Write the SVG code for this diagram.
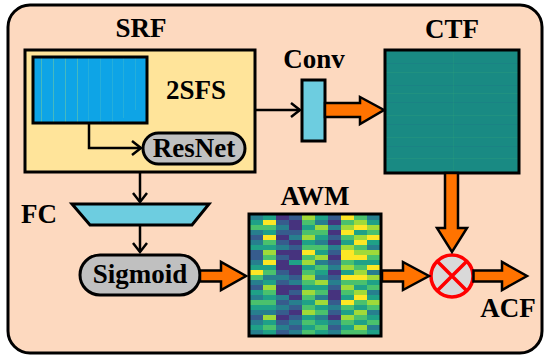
<svg xmlns="http://www.w3.org/2000/svg" width="550" height="361" viewBox="0 0 550 361">
<style>
text{font-family:"Liberation Serif","Times New Roman",serif;font-weight:bold;font-size:27px;fill:#000;text-anchor:middle}
.blk{stroke:#000;stroke-width:3}
.ln{fill:none;stroke:#000;stroke-width:2.5}
.oa{fill:#ff7300;stroke:#000;stroke-width:2.5;stroke-linejoin:miter}
.hm{fill:none;stroke-width:13}
</style>
<defs>
<marker id="chev" markerUnits="userSpaceOnUse" markerWidth="14" markerHeight="16" refX="11" refY="8" orient="auto">
<path d="M2,1 L11,8 L2,15" fill="none" stroke="#000" stroke-width="2.5"/>
</marker>
</defs>
<rect x="8" y="5" width="534" height="348" rx="22" fill="#fdd9bf" class="blk"/>

<g id="srf">
<text x="141" y="37">SRF</text>
<rect x="25" y="50" width="230" height="122" fill="#ffe49a" class="blk"/>
</g>
<g id="spectrogram">
<rect x="33" y="57" width="114" height="66" fill="#0ea4e6"/>
<g stroke="#7ccf9a" stroke-width="1" opacity="0.5">
<path d="M41.5,58V122M53.5,58V122M65.5,58V122M77.5,58V122"/>
</g>
<g stroke="#5cc8c0" stroke-width="1" opacity="0.3">
<path d="M88.5,58V122M100.5,58V122M112.5,58V122M123.5,58V118M135.5,58V110"/>
</g>
<rect x="33" y="57" width="114" height="66" fill="none" class="blk"/>
</g>
<g id="label-2sfs"><text x="196" y="99">2SFS</text></g>
<g id="resnet">
<rect x="143" y="133" width="102" height="31" rx="15.5" fill="#c0c0c0" class="blk"/>
<text x="194" y="157" font-size="28">ResNet</text>
</g>
<g id="conv">
<text x="314" y="68">Conv</text>
<rect x="302" y="80" width="23" height="61" fill="#6dcde0" class="blk"/>
</g>
<g id="ctf">
<text x="452" y="38">CTF</text>
<rect x="385" y="50" width="134" height="123" fill="#198a83"/>
<g stroke-width="1" fill="none">
<path d="M386,63.5H518M386,85.5H518M386,102.5H518M386,124.5H518M386,146.5H518" stroke="#1b7c86" opacity="0.5"/>
<path d="M386,72.5H518M386,93.5H518M386,115.5H518M386,137.5H518M386,158.5H518" stroke="#2a9a7c" opacity="0.45"/>
<path d="M453.5,52V170" stroke="#30a878" opacity="0.2"/>
</g>
<rect x="385" y="50" width="134" height="123" fill="none" class="blk"/>
</g>
<g id="fc">
<text x="39" y="223">FC</text>
<polygon points="72,204 209,204 192,225 90,225" fill="#6dcde0" class="blk"/>
</g>
<g id="sigmoid">
<rect x="80" y="255" width="120" height="40" rx="20" fill="#c0c0c0" class="blk"/>
<text x="140" y="283">Sigmoid</text>
</g>
<g id="awm">
<text x="315" y="205">AWM</text>
<rect x="249" y="214" width="132" height="122" fill="#277f8e"/>
<path class="hm" stroke="#46337e" d="M282.5 215v5M282.5 235v5M282.5 250v5M282.5 260v10M282.5 285v10M282.5 315v5M295.5 220v10M295.5 240v5M295.5 250v10M295.5 265v10M295.5 285v5M295.5 295v5M295.5 310v5M334.5 220v5M334.5 230v5M334.5 240v5M334.5 255v5M334.5 270v5M334.5 290v10M334.5 315v5"/>
<path class="hm" stroke="#365c8d" d="M256.5 235v5M256.5 250v10M256.5 285v5M256.5 315v5M282.5 220v5M282.5 230v5M282.5 240v5M282.5 255v5M282.5 270v5M282.5 280v5M282.5 300v5M282.5 310v5M282.5 320v5M282.5 330v5M295.5 215v5M295.5 230v5M295.5 245v5M295.5 275v5M295.5 290v5M295.5 305v5M295.5 315v5M295.5 325v5M334.5 215v5M334.5 235v5M334.5 250v5M334.5 260v5M334.5 275v5M334.5 285v5M334.5 300v5M334.5 310v5M334.5 325v5"/>
<path class="hm" stroke="#1fa187" d="M256.5 220v5M256.5 245v5M256.5 265v5M256.5 290v5M256.5 305v5M256.5 325v5M269.5 215v5M269.5 230v5M269.5 245v5M269.5 265v5M269.5 280v5M269.5 295v5M269.5 305v5M269.5 320v5M269.5 330v5M295.5 260v5M308.5 225v5M308.5 240v5M308.5 265v5M308.5 285v5M308.5 300v5M308.5 315v5M308.5 325v5M321.5 215v5M321.5 235v5M321.5 250v5M321.5 270v5M321.5 285v5M321.5 305v5M321.5 320v5M321.5 330v5M347.5 240v5M347.5 270v5M347.5 295v5M347.5 310v5M347.5 325v5M360.5 230v5M360.5 260v5M360.5 285v5M360.5 305v5M360.5 320v5M373.5 220v5M373.5 240v5M373.5 260v5M373.5 280v5M373.5 295v5M373.5 315v5M373.5 330v5"/>
<path class="hm" stroke="#4ac16d" d="M256.5 225v5M256.5 275v5M256.5 300v5M269.5 225v5M269.5 240v5M269.5 255v5M269.5 270v5M269.5 290v5M269.5 300v5M269.5 325v5M308.5 220v5M308.5 230v5M308.5 245v5M308.5 255v5M308.5 270v5M308.5 280v5M308.5 295v5M308.5 305v5M308.5 320v5M308.5 330v5M321.5 230v5M321.5 245v5M321.5 265v5M321.5 290v5M321.5 310v5M321.5 325v5M347.5 220v5M347.5 235v5M347.5 260v5M347.5 280v5M347.5 290v5M347.5 305v5M347.5 320v5M347.5 330v5M360.5 215v5M360.5 245v5M360.5 265v5M360.5 280v5M360.5 300v5M360.5 315v5M360.5 330v5M373.5 230v5M373.5 255v5M373.5 285v5M373.5 305v5M373.5 320v5"/>
<path class="hm" stroke="#a0da39" d="M269.5 250v5M269.5 285v5M269.5 315v5M308.5 215v5M308.5 235v5M308.5 260v5M308.5 275v5M308.5 290v5M308.5 310v5M321.5 225v5M321.5 255v5M321.5 280v5M321.5 300v5M347.5 225v5M347.5 245v5M347.5 265v5M347.5 285v5M347.5 315v5M360.5 220v5M360.5 235v5M360.5 250v5M360.5 270v5M360.5 290v5M360.5 310v5M360.5 325v5M373.5 225v5M373.5 250v5M373.5 275v5M373.5 300v5"/>
<path class="hm" stroke="#fde725" d="M256.5 270v5M269.5 220v5M269.5 235v5M269.5 260v5M308.5 250v5M347.5 215v5M347.5 230v5M347.5 250v10M347.5 275v5M347.5 300v5M360.5 225v5M360.5 240v5M360.5 255v5M360.5 275v5M360.5 295v5M373.5 235v5M373.5 265v5"/>
<rect x="249" y="214" width="132" height="122" fill="none" class="blk"/>
</g>
<g id="mult">
<circle cx="452" cy="276" r="21" fill="#d9d9d9" stroke="#ff0000" stroke-width="3.5"/>
<path d="M437.2,261.2L466.8,290.8M466.8,261.2L437.2,290.8" stroke="#ff0000" stroke-width="3.5"/>
</g>
<g id="label-acf"><text x="508" y="317">ACF</text></g>

<g id="connectors">
<path class="ln" d="M89,123V148H141" marker-end="url(#chev)"/>
<path class="ln" d="M255,110H300" marker-end="url(#chev)"/>
<path class="ln" d="M140,172V202" marker-end="url(#chev)"/>
<path class="ln" d="M140,225V252" marker-end="url(#chev)"/>
<polygon class="oa" points="325,103 360,103 360,97 384,110 360,124 360,117 325,117"/>
<polygon class="oa" points="445,173 458,173 458,228 467,228 452,252 437,228 445,228"/>
<polygon class="oa" points="200,270.5 221,270.5 221,262 246,276 221,290 221,281.5 200,281.5"/>
<polygon class="oa" points="382,270.5 403,270.5 403,262 429,276 403,290 403,281.5 382,281.5"/>
<polygon class="oa" points="473.5,270.5 502,270.5 502,262 527,276 502,290 502,281.5 473.5,281.5"/>
</g>
</svg>
